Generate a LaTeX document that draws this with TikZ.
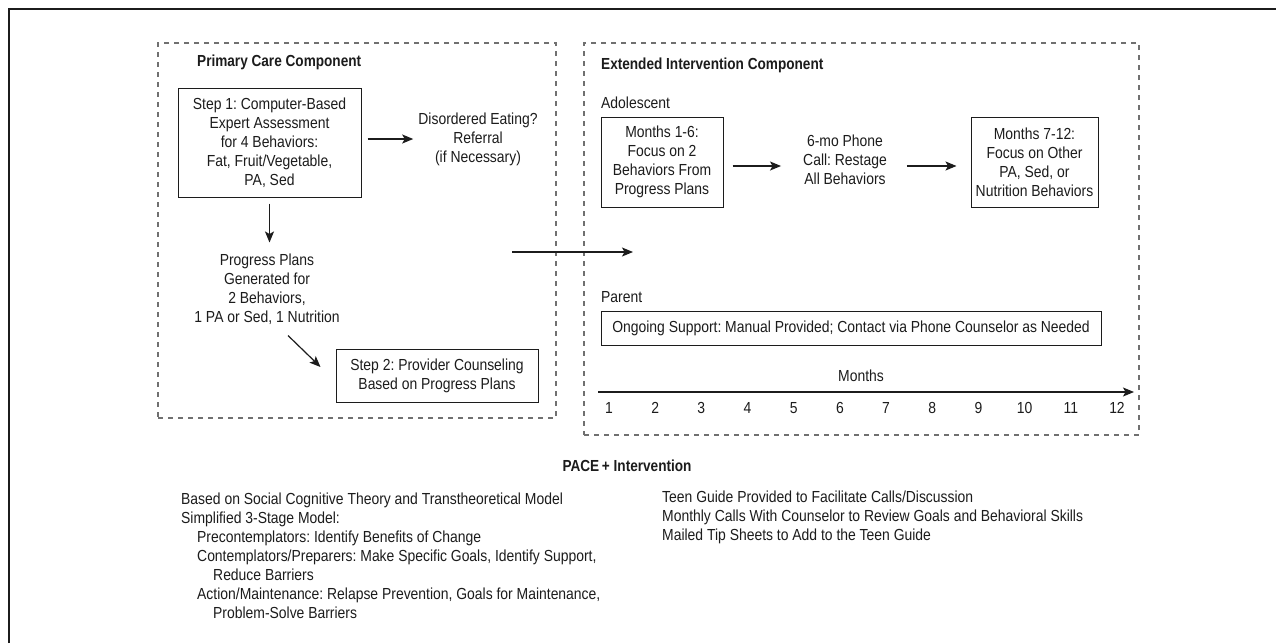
\documentclass[tikz,border=0pt]{standalone}
\usepackage{fontspec}
\setmainfont{Liberation Sans}[FakeStretch=0.87]
\newfontfamily\hdfont{Liberation Sans}[FakeStretch=0.85]
\usetikzlibrary{arrows.meta}
\definecolor{ink}{HTML}{1C1C1C}
\definecolor{dgray}{HTML}{707070}
\begin{document}
\frenchspacing
\begin{tikzpicture}[x=1pt,y=-1pt,
  every node/.style={inner sep=0pt, font=\fontsize{16}{19}\selectfont, text=ink},
  txt/.style={align=center},
  box/.style={draw=ink, line width=1pt, align=center},
  dbox/.style={draw=dgray, line width=1.2pt, dash pattern=on 5pt off 5pt},
  hd/.style={font=\hdfont\bfseries\fontsize{16}{19}\selectfont},
  arr/.style={draw=ink, line width=1.2pt, -{Stealth[length=11pt,width=9pt,inset=2.5pt]}}]
\useasboundingbox (0,0) rectangle (1276,643);
\fill[white] (0,0) rectangle (1276,643);
\draw[ink, line width=1.5pt] (9,643) -- (9,9) -- (1276,9);

% dashed component boxes
\node[dbox, minimum width=398pt, minimum height=375pt] (lbox) at (357,230.5) {};
\node[dbox, minimum width=555pt, minimum height=392pt] (rbox) at (861.5,239) {};

% headers
\node[hd, anchor=west] (hl) at (197,62) {Primary Care Component};
\node[hd, anchor=west] (hr) at (601,65) {Extended Intervention Component};

% primary care
\node[box, minimum width=183pt, minimum height=109pt] (s1) at (269.5,142.5)
  {Step 1: Computer-Based\\Expert Assessment\\for 4 Behaviors:\\Fat, Fruit/Vegetable,\\PA, Sed};
\node[txt] (de) at (478,139) {Disordered Eating?\\Referral\\(if Necessary)};
\node[txt] (pp) at (267,289) {Progress Plans\\Generated for\\2 Behaviors,\\1 PA or Sed, 1 Nutrition};
\node[box, minimum width=202pt, minimum height=53pt] (s2) at (437,375.5)
  {Step 2: Provider Counseling\\Based on Progress Plans};

\draw[arr] ([xshift=6pt]s1.east |- de.west) -- ([xshift=-5pt]de.west);
\draw[arr] ([yshift=-6pt]s1.south) -- ([yshift=11pt]s1.south |- pp.north);
\draw[arr] ([xshift=21pt,yshift=-11pt]pp.south) -- ([xshift=-15pt,yshift=8.5pt]s2.west);

\coordinate (la) at (512,252);
\coordinate (lb) at (633,252);
\draw[arr] (la) -- (lb);

% extended intervention
\node[anchor=west] (ado) at (601,103) {Adolescent};
\node[box, minimum width=122pt, minimum height=90pt] (m16) at (662,162)
  {Months 1-6:\\Focus on 2\\Behaviors From\\Progress Plans};
\node[txt] (ph) at (845,160) {6-mo Phone\\Call: Restage\\All Behaviors};
\node[box, minimum width=127pt, minimum height=90pt] (m712) at (1034.5,162)
  {Months 7-12:\\Focus on Other\\PA, Sed, or\\Nutrition Behaviors};
\coordinate (arow) at (0,166);
\draw[arr] ([xshift=9pt]m16.east |- arow) -- ([xshift=-22pt]ph.west |- arow);
\draw[arr] ([xshift=20pt]ph.east |- arow) -- ([xshift=-14pt]m712.west |- arow);

\node[anchor=west] (par) at (601,297) {Parent};
\node[box, minimum width=500pt, minimum height=34pt] (og) at (851,328.5)
  {Ongoing Support: Manual Provided; Contact via Phone Counselor as Needed};

\node (mo) at (861,376) {Months};
\coordinate (ax0) at (598,392);
\coordinate (ax1) at (1134,392);
\draw[arr] (ax0) -- (ax1);
\foreach \i in {1,...,12} \node (n\i) at ({609+46.18*(\i-1)},408) {\i};

% bottom text
\node[hd] (pace) at (627,466) {PACE\,+ Intervention};
\node[anchor=west, align=left] (bl) at (181,555.5)
  {Based on Social Cognitive Theory and Transtheoretical Model\\
   Simplified 3-Stage Model:\\
   \hspace*{16pt}Precontemplators: Identify Benefits of Change\\
   \hspace*{16pt}Contemplators/Preparers: Make Specific Goals, Identify Support,\\
   \hspace*{32pt}Reduce Barriers\\
   \hspace*{16pt}Action/Maintenance: Relapse Prevention, Goals for Maintenance,\\
   \hspace*{32pt}Problem-Solve Barriers};
\node[anchor=west, align=left] (br) at (662,517)
  {Teen Guide Provided to Facilitate Calls/Discussion\\
   Monthly Calls With Counselor to Review Goals and Behavioral Skills\\
   Mailed Tip Sheets to Add to the Teen Guide};
\end{tikzpicture}
\end{document}
